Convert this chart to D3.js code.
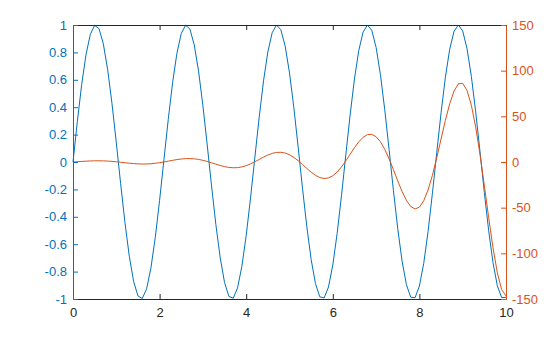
<!DOCTYPE html>
<html>
<head>
<meta charset="utf-8">
<script src="https://cdn.jsdelivr.net/npm/d3@7"></script>
<style>
  body { margin: 0; background: #fff; }
  text { font-family: "Liberation Sans", Arial, sans-serif; font-size: 13px; }
</style>
</head>
<body>
<div id="chart"></div>
<script>
// x from 0 to 10 step 0.1
var xValues = d3.range(0, 101).map(function(i) { return i / 10; });

// left axis series (blue)
var leftValues = [
  0, 0.2955, 0.5646, 0.7833, 0.932, 0.9975, 0.9738, 0.8632, 0.6755, 0.4274,
  0.1411, -0.1577, -0.4425, -0.6878, -0.8716, -0.9775, -0.9962, -0.9258, -0.7728, -0.5507,
  -0.2794, 0.0168, 0.3115, 0.5784, 0.7937, 0.938, 0.9985, 0.9699, 0.8546, 0.663,
  0.4121, 0.1245, -0.1743, -0.4575, -0.6999, -0.8797, -0.9809, -0.9945, -0.9193, -0.762,
  -0.5366, -0.2632, 0.0336, 0.3275, 0.5921, 0.8038, 0.9437, 0.9993, 0.9657, 0.8457,
  0.6503, 0.3967, 0.108, -0.1909, -0.4724, -0.7118, -0.8877, -0.9841, -0.9926, -0.9125,
  -0.751, -0.5223, -0.247, 0.0504, 0.3433, 0.6055, 0.8137, 0.9491, 0.9998, 0.9612,
  0.8367, 0.6374, 0.3813, 0.0914, -0.2074, -0.4872, -0.7235, -0.8955, -0.9871, -0.9905,
  -0.9056, -0.7398, -0.5078, -0.2306, 0.0672, 0.3591, 0.6188, 0.8234, 0.9542, 0.9999,
  0.9564, 0.8274, 0.6243, 0.3657, 0.0748, -0.2238, -0.5018, -0.735, -0.9031, -0.9898,
  -0.988
];

// right axis series (orange)
var rightValues = [
  0, 0.31, 0.62, 0.91, 1.14, 1.28, 1.31, 1.23, 1.01, 0.67,
  0.23, -0.27, -0.81, -1.32, -1.76, -2.07, -2.22, -2.17, -1.9, -1.42,
  -0.76, 0.05, 0.94, 1.83, 2.64, 3.27, 3.66, 3.74, 3.47, 2.83,
  1.85, 0.59, -0.86, -2.38, -3.83, -5.06, -5.93, -6.32, -6.15, -5.36,
  -3.97, -2.04, 0.27, 2.81, 5.34, 7.63, 9.41, 10.48, 10.65, 9.8,
  7.92, 5.08, 1.45, -2.7, -7.03, -11.13, -14.6, -17.01, -18.04, -17.43,
  -15.08, -11.03, -5.48, 1.18, 8.42, 15.62, 22.06, 27.05, 29.96, 30.28,
  27.71, 22.19, 13.95, 3.52, -8.39, -20.72, -32.34, -42.08, -48.77, -51.44,
  -49.44, -42.46, -30.64, -14.63, 4.48, 25.17, 45.61, 63.8, 77.72, 85.62,
  86.09, 78.3, 62.11, 38.25, 8.22, -25.87, -60.97, -93.89, -121.28, -139.74,
  -146.63
];

var xTicks = [0, 2, 4, 6, 8, 10];
var leftTicks = [-1, -0.8, -0.6, -0.4, -0.2, 0, 0.2, 0.4, 0.6, 0.8, 1];
var rightTicks = [-150, -100, -50, 0, 50, 100, 150];

var width = 560;
var height = 337;
var margin = { top: 25, right: 54, bottom: 38, left: 73 };
var blue = '#0072BD';
var orange = '#D95319';

// plain hyphen for minus, like the original
var fmt = function(d) { return String(d); };

var svg = d3.select('#chart')
  .append('svg')
  .attr('width', width)
  .attr('height', height);

var x = d3.scaleLinear().domain([0, 10]).range([margin.left, width - margin.right]);
var yL = d3.scaleLinear().domain([-1, 1]).range([height - margin.bottom, margin.top]);
var yR = d3.scaleLinear().domain([-150, 150]).range([height - margin.bottom, margin.top]);

var line = d3.line();

// series
svg.append('path')
  .attr('d', line(xValues.map(function(d, i) { return [x(d), yL(leftValues[i])]; })))
  .attr('fill', 'none')
  .attr('stroke', blue)
  .attr('stroke-width', 1);

svg.append('path')
  .attr('d', line(xValues.map(function(d, i) { return [x(d), yR(rightValues[i])]; })))
  .attr('fill', 'none')
  .attr('stroke', orange)
  .attr('stroke-width', 1);

function styleAxis(g, color, hideText) {
  g.select('.domain').attr('stroke', color);
  g.selectAll('.tick line').attr('stroke', color);
  g.selectAll('.tick text').attr('fill', color)
    .attr('font-size', 13).attr('font-family', null);
  if (hideText) g.selectAll('.tick text').remove();
}

// bottom & top
var xb = svg.append('g')
  .attr('transform', 'translate(0,' + (height - margin.bottom) + ')')
  .call(d3.axisBottom(x).tickValues(xTicks).tickFormat(fmt).tickSize(-5).tickSizeOuter(0).tickPadding(9));
styleAxis(xb, '#262626');

var xt = svg.append('g')
  .attr('transform', 'translate(0,' + margin.top + ')')
  .call(d3.axisTop(x).tickValues(xTicks).tickSize(-5).tickSizeOuter(0));
styleAxis(xt, '#262626', true);

// left
var yl = svg.append('g')
  .attr('transform', 'translate(' + margin.left + ',0)')
  .call(d3.axisLeft(yL).tickValues(leftTicks).tickFormat(fmt).tickSize(-5).tickSizeOuter(0).tickPadding(6));
styleAxis(yl, blue);

// right
var yr = svg.append('g')
  .attr('transform', 'translate(' + (width - margin.right) + ',0)')
  .call(d3.axisRight(yR).tickValues(rightTicks).tickFormat(fmt).tickSize(-5).tickSizeOuter(0).tickPadding(6));
styleAxis(yr, orange);
</script>
</body>
</html>
